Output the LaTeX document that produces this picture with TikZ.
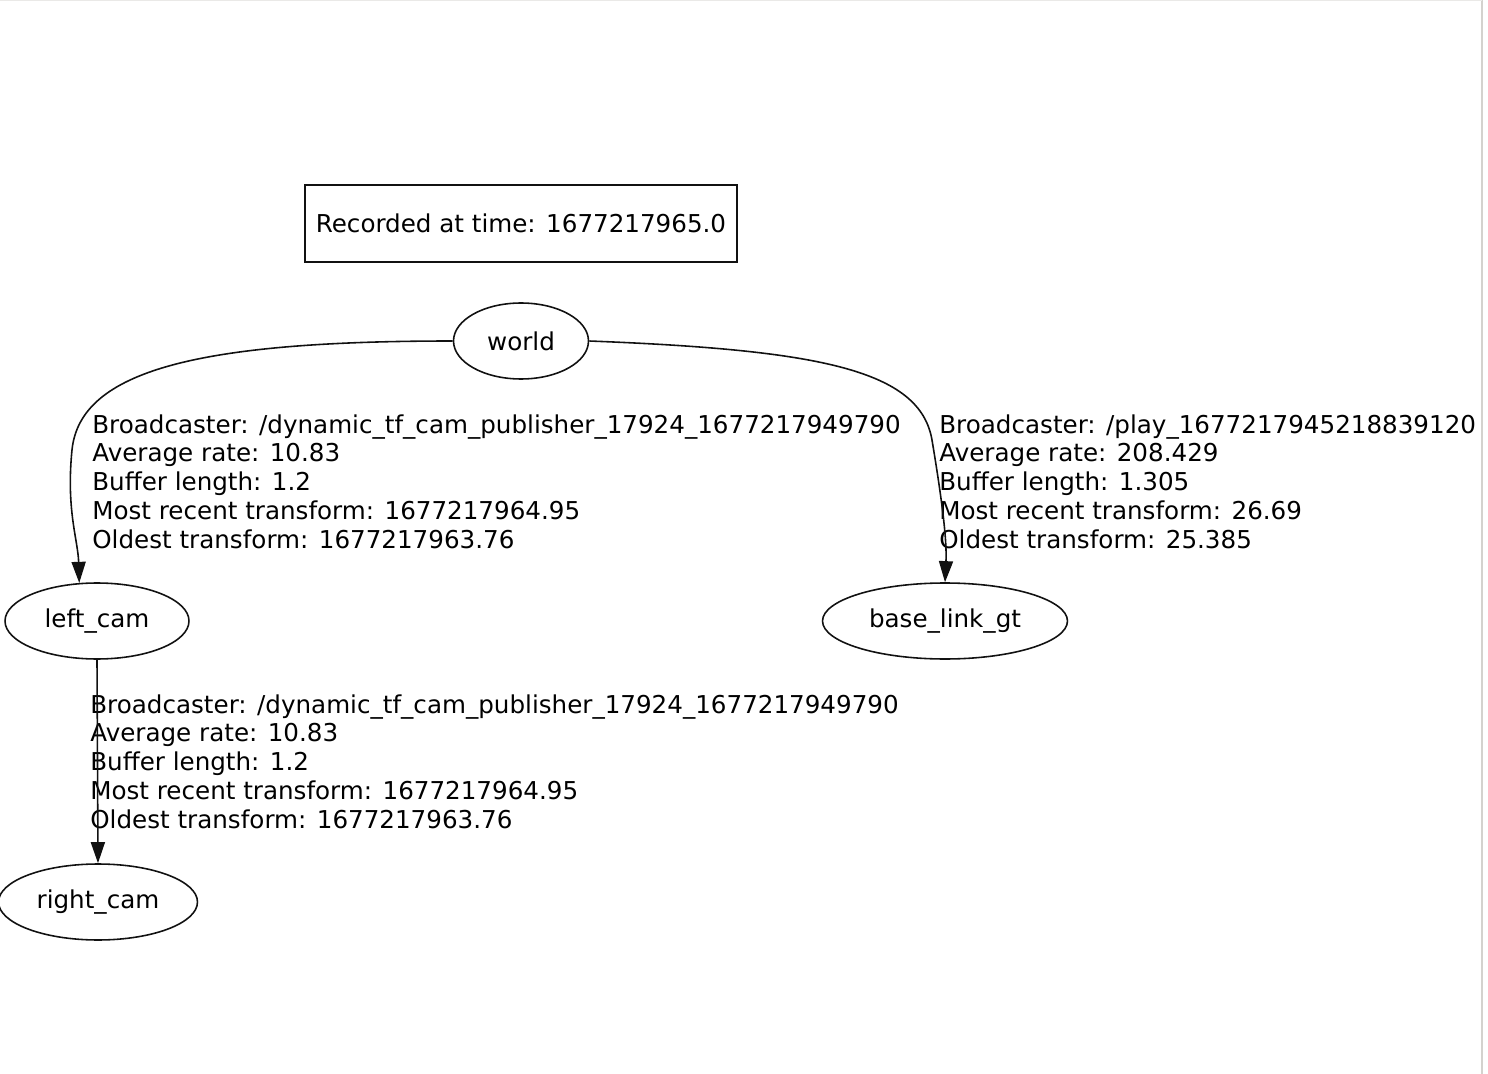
\documentclass[tikz,border=0pt]{standalone}
\usepackage{fontspec}
\setmainfont{DejaVu Sans}
\usepackage{xcolor}
\definecolor{edgeBlack}{HTML}{111111}
\definecolor{frameGray}{HTML}{D4D2CE}
\usepackage{tikz}
\usetikzlibrary{arrows.meta,shapes.geometric}
\tikzset{
  tfframe/.style={
    draw=edgeBlack,
    ellipse,
    line width=0.9pt,
    minimum height=1.52cm,
    inner sep=0pt,
    font=\fontsize{14}{16.4}\selectfont
  },
  tfbox/.style={
    draw=edgeBlack,
    rectangle,
    line width=0.9pt,
    minimum width=8.64cm,
    minimum height=1.54cm,
    inner sep=0pt,
    font=\fontsize{14}{16.4}\selectfont
  },
  tflabel/.style={
    anchor=north west,
    align=left,
    inner sep=0pt,
    font=\fontsize{14}{16.4}\selectfont
  },
  tfline/.style={
    draw=edgeBlack,
    -{Triangle[length=12pt,width=8pt]},
    line width=0.9pt
  }
}

\begin{document}
\begin{tikzpicture}[x=0.02cm,y=-0.02cm]
  \useasboundingbox (0,0) rectangle (1488,1074);
  \draw[frameGray,line width=1.2pt] (1482,0) -- (1482,1074);
  \draw[frameGray!50,line width=0.6pt] (0,0) -- (1482,0);
  \node[tfbox] (stamp) at (521,223.5) {Recorded at time: 1677217965.0};
  \node[tfframe,minimum width=2.7cm] (world) at (521,341) {world};
  \node[tfframe,minimum width=3.68cm] (leftcam) at (97,621) {left\_cam};
  \node[tfframe,minimum width=4.9cm] (basegt) at (945,621) {base\_link\_gt};
  \node[tfframe,minimum width=3.98cm] (rightcam) at (98,902) {right\_cam};
  \node[tflabel] (infoleft) at (92,414) {Broadcaster: /dynamic\_tf\_cam\_publisher\_17924\_1677217949790\\Average rate: 10.83\\Buffer length: 1.2\\Most recent transform: 1677217964.95\\Oldest transform: 1677217963.76};
  \node[tflabel] (inforight) at (939,414) {Broadcaster: /play\_1677217945218839120\\Average rate: 208.429\\Buffer length: 1.305\\Most recent transform: 26.69\\Oldest transform: 25.385};
  \node[tflabel] (infocam) at (90,694) {Broadcaster: /dynamic\_tf\_cam\_publisher\_17924\_1677217949790\\Average rate: 10.83\\Buffer length: 1.2\\Most recent transform: 1677217964.95\\Oldest transform: 1677217963.76};
  \draw[tfline] (world.west) .. controls (200,341) and (80,370) .. (72,450) .. controls (66,510) and (78,540) .. (leftcam.115);
  \draw[tfline] (world.east) .. controls (820,350) and (920,370) .. (932,440) .. controls (942,500) and (947,540) .. (basegt.north);
  \draw[tfline] (leftcam.south) -- (rightcam.north);
\end{tikzpicture}
\end{document}
